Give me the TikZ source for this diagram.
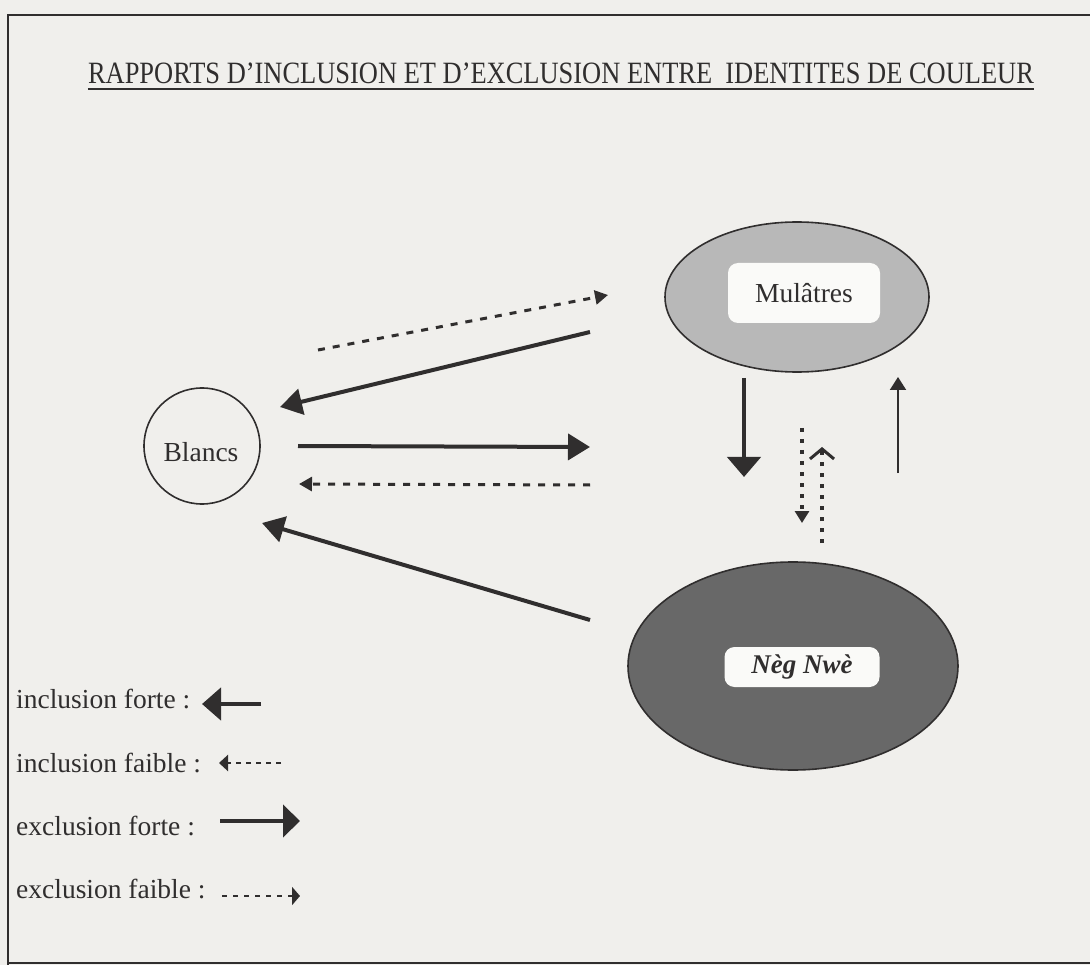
\documentclass[tikz,border=0pt]{standalone}
\usepackage{fontspec}
\setmainfont{Liberation Serif}
\usetikzlibrary{arrows.meta,shapes.geometric}
\definecolor{paper}{RGB}{240,239,236}
\definecolor{ink}{RGB}{48,46,46}
\definecolor{lightdots}{RGB}{184,184,184}
\definecolor{darkdots}{RGB}{104,104,104}
\definecolor{boxwhite}{RGB}{250,250,248}

\begin{document}
\begin{tikzpicture}[x=1pt,y=-1pt,
  every node/.style={font=\fontsize{27.5}{30}\selectfont, text=ink},
  strong/.style={draw=ink, line width=4pt, -{Triangle[width=26pt,length=22pt]}},
  weak/.style={draw=ink, line width=3pt, dash pattern=on 7pt off 8pt, -{Triangle[width=14pt,length=13pt]}},
  dotline/.style={draw=ink, line width=3.5pt, dash pattern=on 4pt off 7pt},
  thinarrow/.style={draw=ink, line width=2pt, -{Triangle[width=16pt,length=13pt]}},
  labelbox/.style={fill=boxwhite, draw=none, rounded corners=10pt, inner sep=0pt},
  legendtext/.style={anchor=base west, inner sep=0pt}
]
% page and frame
\useasboundingbox (0,0) rectangle (1090,965);
\fill[paper] (0,0) rectangle (1090,965);
\draw[line width=2pt, ink] (8,965) -- (8,15) -- (1090,15);
\draw[line width=1.5pt, ink] (8,963) -- (1090,963);

% title
\node[inner sep=0pt, anchor=base, font=\fontsize{31}{34}\selectfont] (title) at (561,84)
  {\scalebox{0.853}[1]{RAPPORTS D’INCLUSION ET D’EXCLUSION ENTRE\ \ IDENTITES DE COULEUR}};
\draw[line width=1.8pt, ink] ([yshift=-5pt]title.base west) -- ([yshift=-5pt]title.base east);

% the three groups
\node[circle, draw=ink, line width=1.6pt, minimum size=116pt, inner sep=0pt] (blancs) at (202,446) {};
\node at (201,452) {Blancs};

\node[ellipse, draw=ink, line width=1.6pt, fill=lightdots, minimum width=264pt, minimum height=150pt, inner sep=0pt] (mul) at (797,297) {};
\node[labelbox, minimum width=152pt, minimum height=60pt] (mullab) at (804,293) {Mulâtres};

\node[ellipse, draw=ink, line width=1.6pt, fill=darkdots, minimum width=330pt, minimum height=208pt, inner sep=0pt] (neg) at (793,666) {};
\node[labelbox, minimum width=155pt, minimum height=40pt, font=\fontsize{27}{30}\selectfont\bfseries\itshape] (neglab) at (802,667) {Nèg Nwè};

% arrow end points
\coordinate (a1s) at (318,350); \coordinate (a1e) at (608,295);
\coordinate (a2s) at (590,332); \coordinate (a2e) at (280,407);
\coordinate (a3s) at (298,446); \coordinate (a3e) at (590,447);
\coordinate (a4s) at (590,485); \coordinate (a4e) at (299,484);
\coordinate (a5s) at (590,620); \coordinate (a5e) at (262,523);
\coordinate (a6s) at (744,378); \coordinate (a6e) at (744,477);
\coordinate (a7s) at (898,473); \coordinate (a7e) at (898,377);
\coordinate (a8s) at (802,428); \coordinate (a8e) at (802,523);
\coordinate (a9s) at (822,543); \coordinate (a9e) at (822,447);

% relations
\draw[weak] (a1s) -- (a1e);
\draw[strong] (a2s) -- (a2e);
\draw[strong] (a3s) -- (a3e);
\draw[weak] (a4s) -- (a4e);
\draw[strong] (a5s) -- (a5e);
\draw[draw=ink, line width=4.5pt, -{Triangle[width=33pt,length=20pt]}] (a6s) -- (a6e);
\draw[thinarrow] (a7s) -- (a7e);
\draw[dotline, -{Triangle[width=14pt,length=12pt]}] (a8s) -- (a8e);
\draw[dotline, -{Straight Barb[width=24pt,length=10pt,line width=3pt]}] (a9s) -- (a9e);

% legend
\node[legendtext] (l1) at (16,708) {inclusion forte :};
\node[legendtext] (l2) at (16,772) {inclusion faible :};
\node[legendtext] (l3) at (16,835) {exclusion forte :};
\node[legendtext] (l4) at (16,898) {exclusion faible :};

\coordinate (k1s) at (261,704); \coordinate (k1e) at (202,704);
\coordinate (k2s) at (281,763); \coordinate (k2e) at (219,763);
\coordinate (k3s) at (220,821); \coordinate (k3e) at (300,821);
\coordinate (k4s) at (222,896); \coordinate (k4e) at (300,896);

\draw[draw=ink, line width=4.5pt, -{Triangle[width=32pt,length=19pt]}] (k1s) -- (k1e);
\draw[draw=ink, line width=2.5pt, dash pattern=on 5pt off 5pt, -{Triangle[width=16pt,length=9pt]}] (k2s) -- (k2e);
\draw[draw=ink, line width=4.5pt, -{Triangle[width=32pt,length=17pt]}] (k3s) -- (k3e);
\draw[draw=ink, line width=2.5pt, dash pattern=on 5pt off 6pt, -{Triangle[width=18pt,length=8pt]}] (k4s) -- (k4e);
\end{tikzpicture}
\end{document}
